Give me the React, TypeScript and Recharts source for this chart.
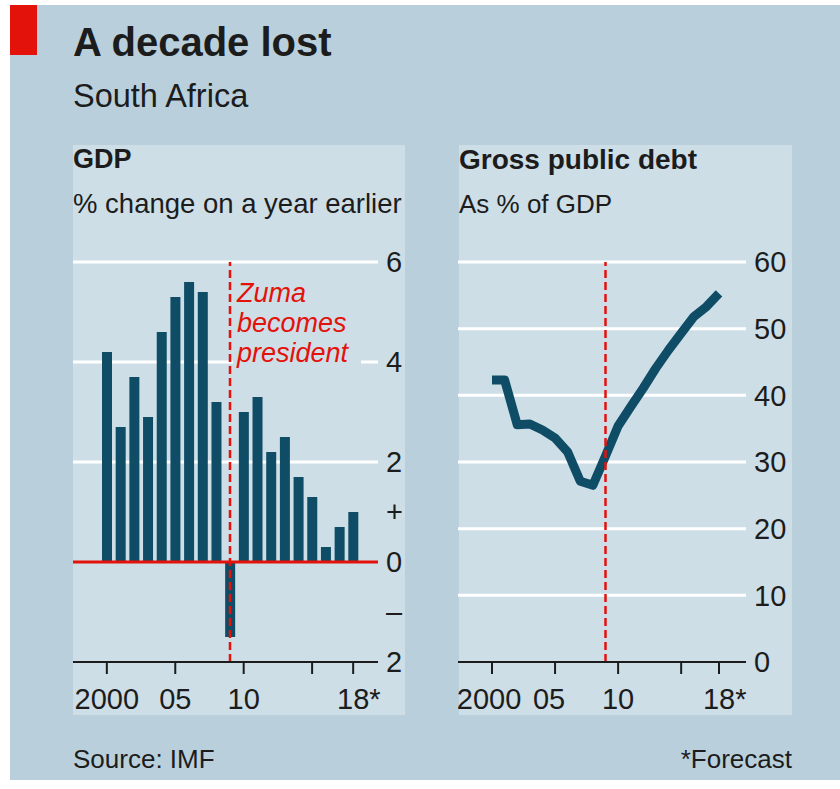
import {
  BarChart,
  Bar,
  LineChart,
  Line,
  XAxis,
  YAxis,
  CartesianGrid,
  ReferenceLine,
} from "recharts";

const years = [
  2000, 2001, 2002, 2003, 2004, 2005, 2006, 2007, 2008, 2009, 2010, 2011, 2012,
  2013, 2014, 2015, 2016, 2017, 2018,
];
// GDP, % change on a year earlier
const gdpGrowth = [
  4.2, 2.7, 3.7, 2.9, 4.6, 5.3, 5.6, 5.4, 3.2, -1.5, 3.0, 3.3, 2.2, 2.5, 1.7,
  1.3, 0.3, 0.7, 1.0,
];
// Gross public debt, % of GDP
const publicDebt = [
  42.3, 42.3, 35.6, 35.7, 34.8, 33.6, 31.5, 27.1, 26.5, 30.9, 35.4, 38.3, 41.1,
  44.1, 46.8, 49.3, 51.8, 53.3, 55.3,
];
const yearTicks = [2000, 2005, 2010, 2015, 2018];
const yearLabels = ["2000", "05", "10", "", "18*"];
const gdpTicks = [-2, -1, 0, 1, 2, 4, 6];
const gdpGrid = [2, 4, 6];
const debtTicks = [0, 10, 20, 30, 40, 50, 60];
const debtGrid = [10, 20, 30, 40, 50, 60];
const zumaYear = 2009;
const zumaNote = ["Zuma", "becomes", "president"];

const data = years.map((year, i) => ({
  year,
  gdp: gdpGrowth[i],
  debt: publicDebt[i],
}));

const FONT = '"Liberation Sans", Arial, sans-serif';
const INK = "#1c1c1c";
const NAVY = "#0f4c66";
const RED = "#e3120b";
const OUTER = "#b9d0dc";
const PANEL = "#cddee7";
const AXIS_SIZE = 29;

function YearTick(props: any) {
  const { x, y, payload, nudge } = props;
  const i = yearTicks.indexOf(payload.value);
  const label = yearLabels[i] ?? "";
  if (!label) return null;
  const star = label.endsWith("*");
  // "18*" keeps the digits centred on the tick, the star hangs to the right
  const dx = star ? -0.556 * AXIS_SIZE : 0;
  return (
    <text
      x={x + dx + (nudge?.[i] ?? 0)}
      y={y}
      dy="0.71em"
      textAnchor={star ? "start" : "middle"}
      fill={INK}
      fontSize={AXIS_SIZE}
      fontFamily={FONT}
    >
      {label}
    </text>
  );
}

function ZumaLabel(props: any) {
  const { viewBox } = props;
  const x = viewBox.x + 7;
  const y = viewBox.y;
  return (
    <g>
      <rect x={viewBox.x + 3} y={y + 80} width={128} height={30} fill={PANEL} />
      {zumaNote.map((t, i) => (
        <text
          key={t}
          x={x}
          y={y + 40 + i * 30}
          fill={RED}
          fontSize={27}
          fontStyle="italic"
          fontFamily={FONT}
        >
          {t}
        </text>
      ))}
    </g>
  );
}

const gdpLabel = (v: number) =>
  v === 1 ? "+" : v === -1 ? "–" : String(Math.abs(v));

const axisStroke = { stroke: INK, strokeWidth: 2 };

function GdpChart() {
  return (
    <BarChart
      width={332}
      height={482}
      data={data}
      margin={{ top: 22, right: 0, bottom: 0, left: 0 }}
      barSize={10}
    >
      <CartesianGrid
        vertical={false}
        horizontalValues={gdpGrid}
        stroke="#ffffff"
        strokeWidth={3}
      />
      <XAxis
        dataKey="year"
        ticks={yearTicks}
        interval={0}
        padding={{ left: 27, right: 18 }}
        height={60}
        tickSize={12}
        tickMargin={14}
        axisLine={axisStroke}
        tickLine={axisStroke}
        tick={(p: any) => <YearTick {...p} />}
      />
      <YAxis
        orientation="right"
        width={27}
        domain={[-2, 6]}
        ticks={gdpTicks}
        interval={0}
        tickFormatter={gdpLabel}
        axisLine={false}
        tickLine={false}
        tick={{ fill: INK, fontSize: AXIS_SIZE, fontFamily: FONT }}
      />
      <Bar dataKey="gdp" fill={NAVY} isAnimationActive={false} />
      <ReferenceLine y={0} stroke={RED} strokeWidth={3} />
      <ReferenceLine
        x={zumaYear}
        stroke={RED}
        strokeWidth={2.5}
        strokeDasharray="8 4"
        label={(p: any) => <ZumaLabel {...p} />}
      />
    </BarChart>
  );
}

function DebtChart() {
  return (
    <LineChart
      width={330}
      height={482}
      data={data}
      margin={{ top: 22, right: 0, bottom: 0, left: 0 }}
    >
      <CartesianGrid
        vertical={false}
        horizontalValues={debtGrid}
        stroke="#ffffff"
        strokeWidth={3}
      />
      <XAxis
        dataKey="year"
        ticks={yearTicks}
        interval={0}
        padding={{ left: 34, right: 27 }}
        height={60}
        tickSize={12}
        tickMargin={14}
        axisLine={axisStroke}
        tickLine={axisStroke}
        tick={(p: any) => <YearTick {...p} nudge={[-3, -6, 0, 0, 0]} />}
      />
      <YAxis
        orientation="right"
        width={42}
        domain={[0, 60]}
        ticks={debtTicks}
        interval={0}
        axisLine={false}
        tickLine={false}
        tick={{ fill: INK, fontSize: AXIS_SIZE, fontFamily: FONT }}
      />
      <Line
        type="linear"
        dataKey="debt"
        stroke={NAVY}
        strokeWidth={9}
        strokeLinejoin="round"
        dot={false}
        activeDot={false}
        isAnimationActive={false}
      />
      <ReferenceLine
        x={zumaYear}
        stroke={RED}
        strokeWidth={2.5}
        strokeDasharray="8 4"
      />
    </LineChart>
  );
}

const abs = (left: number, top: number, extra: any = {}) => ({
  position: "absolute" as const,
  left,
  top,
  lineHeight: 1,
  whiteSpace: "nowrap" as const,
  ...extra,
});

export default function App() {
  return (
    <div
      style={{
        position: "absolute",
        left: 0,
        top: 0,
        width: 840,
        height: 789,
        background: "#ffffff",
        fontFamily: FONT,
        color: INK,
        overflow: "hidden",
      }}
    >
      <div style={abs(10, 5, { width: 830, height: 775, background: OUTER })} />
      <div style={abs(10, 5, { width: 27, height: 50, background: RED })} />
      <div style={abs(73, 145, { width: 332, height: 570, background: PANEL })} />
      <div style={abs(459, 145, { width: 333, height: 570, background: PANEL })} />

      <div style={abs(73, 21.6, { fontSize: 40, fontWeight: 700 })}>
        A decade lost
      </div>
      <div style={abs(73, 79.6, { fontSize: 32.5 })}>South Africa</div>

      <div style={abs(73, 146, { fontSize: 27, fontWeight: 700 })}>GDP</div>
      <div style={abs(73, 190, { fontSize: 27.5 })}>
        % change on a year earlier
      </div>
      <div style={abs(459, 146, { fontSize: 28, fontWeight: 700 })}>
        Gross public debt
      </div>
      <div style={abs(459, 191, { fontSize: 26 })}>As % of GDP</div>

      <div style={abs(73, 240)}>
        <GdpChart />
      </div>
      <div style={abs(458, 240)}>
        <DebtChart />
      </div>

      <div style={abs(73, 746, { fontSize: 26 })}>Source: IMF</div>
      <div style={abs(560, 746, { fontSize: 26, width: 232, textAlign: "right" })}>
        *Forecast
      </div>
    </div>
  );
}
